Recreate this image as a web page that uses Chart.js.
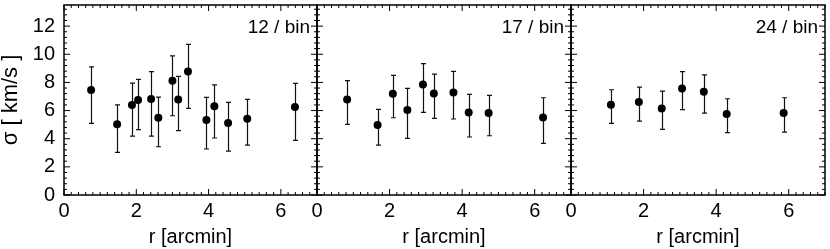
<!DOCTYPE html>
<html><head><meta charset="utf-8">
<script src="https://cdn.jsdelivr.net/npm/chart.js@4/dist/chart.umd.min.js"></script>
<style>
html,body{margin:0;padding:0;background:#fff;}
#wrap{position:relative;width:830px;height:249px;}
canvas{position:absolute;left:0;top:0;}
</style></head><body>
<div id="wrap">
<canvas id="c1" width="830" height="249"></canvas>
<canvas id="c2" width="830" height="249"></canvas>
<canvas id="c3" width="830" height="249"></canvas>
</div>
<script>
// ---- data ----
const r12  = [0.75,1.47,1.88,2.05,2.41,2.61,3.00,3.16,3.43,3.94,4.16,4.54,5.07,6.39];
const s12  = [7.46,5.02,6.39,6.75,6.82,5.49,8.12,6.79,8.78,5.33,6.30,5.11,5.42,6.25];
const hi12 = [9.11,6.41,7.95,8.21,8.76,6.96,9.89,8.43,10.70,6.93,7.83,6.58,6.79,7.93];
const lo12 = [5.09,3.03,4.19,4.64,4.19,3.43,5.63,4.57,6.15,3.27,4.05,3.12,3.55,3.88];

const r17  = [0.83,1.67,2.09,2.49,2.92,3.22,3.76,4.18,4.73,6.23];
const s17  = [6.79,4.97,7.20,6.04,7.86,7.22,7.29,5.87,5.82,5.51];
const hi17 = [8.12,6.08,8.50,7.57,9.33,8.59,8.78,7.15,7.08,6.91];
const lo17 = [5.02,3.55,5.49,4.02,5.87,5.44,5.40,4.12,4.21,3.67];

const r24  = [1.10,1.87,2.50,3.06,3.66,4.29,5.86];
const s24  = [6.41,6.60,6.15,7.57,7.34,5.75,5.82];
const hi24 = [7.48,7.67,7.38,8.76,8.54,6.84,6.91];
const lo24 = [5.09,5.25,4.66,6.06,5.82,4.43,4.47];

const xTickValues = [0,2,4,6];
const yTickValues = [0,2,4,6,8,10,12];
const binLabels = ['12 / bin','17 / bin','24 / bin'];
const xTitle = 'r [arcmin]';
const yTitle = 'σ [ km/s ]';

Chart.defaults.font.family = '"Liberation Sans", Arial, Helvetica, sans-serif';
Chart.defaults.color = '#000';

const deco = {
  id: 'deco',
  beforeDatasetsDraw(chart) {
    const {ctx, scales:{x,y}} = chart;
    const ds = chart.data.datasets[0];
    ctx.save();
    ctx.strokeStyle = '#111'; ctx.lineWidth = 1.2;
    ctx.beginPath();
    ds.data.forEach((p,i)=>{
      const px = Math.round(x.getPixelForValue(p.x)) + 0.5;
      const yl = y.getPixelForValue(ds.lo[i]);
      const yh = y.getPixelForValue(ds.hi[i]);
      ctx.moveTo(px, yl); ctx.lineTo(px, yh);
      ctx.moveTo(px-2.5, yl); ctx.lineTo(px+2.5, yl);
      ctx.moveTo(px-2.5, yh); ctx.lineTo(px+2.5, yh);
    });
    ctx.stroke();
    ctx.restore();
  },
  afterDraw(chart, args, opts) {
    const {ctx, chartArea:a, scales:{x,y}} = chart;
    ctx.save();
    ctx.strokeStyle = '#000'; ctx.lineWidth = 1;
    ctx.beginPath();
    for (let i = 0; i <= 35; i++) {
      const px = x.getPixelForValue(i*0.2);
      const L = i % 10 === 0 ? 6 : 3;
      ctx.moveTo(px, a.bottom); ctx.lineTo(px, a.bottom - L);
      ctx.moveTo(px, a.top); ctx.lineTo(px, a.top + L);
    }
    for (let i = 0; i <= 33; i++) {
      const py = y.getPixelForValue(i*0.4);
      const L = i % 5 === 0 ? 6 : 3;
      ctx.moveTo(a.left, py); ctx.lineTo(a.left + L, py);
      ctx.moveTo(a.right, py); ctx.lineTo(a.right - L, py);
    }
    ctx.stroke();
    ctx.lineWidth = 1.5;
    ctx.strokeRect(a.left, a.top, a.right - a.left, a.bottom - a.top);
    ctx.font = '19px "Liberation Sans", Arial, sans-serif';
    ctx.fillStyle = '#000';
    ctx.textAlign = 'right';
    ctx.textBaseline = 'alphabetic';
    ctx.fillText(opts.label, a.right - 7, a.top + 28);
    ctx.restore();
  }
};

function makeChart(id, rs, ss, lo, hi, label, left, right, showY) {
  return new Chart(document.getElementById(id), {
    type: 'scatter',
    data: { datasets: [{
      data: rs.map((r,i)=>({x:r, y:ss[i]})),
      lo: lo, hi: hi,
      pointRadius: 4, pointBackgroundColor: '#000', pointBorderWidth: 0,
      showLine: false
    }]},
    options: {
      responsive: false, animation: false, devicePixelRatio: 1,
      layout: { padding: { left: showY ? 0 : left, right: 830 - right, top: 5, bottom: 0 } },
      plugins: { legend: {display:false}, tooltip: {enabled:false}, deco: { label: label } },
      scales: {
        x: {
          type: 'linear', min: 0, max: 7,
          afterBuildTicks: s => { s.ticks = xTickValues.map(v => ({value: v})); },
          afterFit: s => { s.height = 54; s.paddingLeft = 0; s.paddingRight = 0; },
          grid: { display: false, drawTicks: false }, border: { display: false },
          ticks: { padding: 4, font: { size: 20 }, color: '#000', maxRotation: 0, autoSkip: false },
          title: { display: true, text: xTitle, font: { size: 20, lineHeight: 1.2 }, padding: { top: 0, bottom: 0 }, color: '#000' }
        },
        y: {
          type: 'linear', min: 0, max: 13.5, display: showY,
          afterBuildTicks: s => { s.ticks = yTickValues.map(v => ({value: v})); },
          afterFit: s => { s.width = showY ? left : 0; s.paddingTop = 0; s.paddingBottom = 0; },
          grid: { display: false, drawTicks: false }, border: { display: false },
          ticks: { padding: 9, font: { size: 20 }, color: '#000', autoSkip: false },
          title: { display: true, text: yTitle, font: { size: 22, lineHeight: 1.0 }, padding: { top: 0, bottom: 0 }, color: '#000' }
        }
      }
    },
    plugins: [deco]
  });
}

makeChart('c1', r12, s12, lo12, hi12, binLabels[0], 64, 317, true);
makeChart('c2', r17, s17, lo17, hi17, binLabels[1], 317, 571, false);
makeChart('c3', r24, s24, lo24, hi24, binLabels[2], 571, 825, false);
</script>
</body></html>
